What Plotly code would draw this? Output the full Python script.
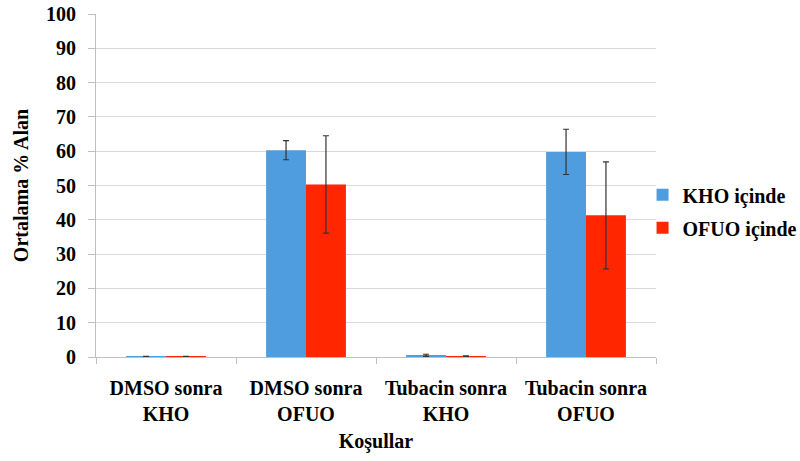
import plotly.graph_objects as go

categories = ["DMSO sonra<br>KHO", "DMSO sonra<br>OFUO", "Tubacin sonra<br>KHO", "Tubacin sonra<br>OFUO"]
kho_values = [0.1, 60.3, 0.5, 59.8]
kho_errors = [0.1, 2.8, 0.3, 6.6]
ofuo_values = [0.1, 50.3, 0.2, 41.3]
ofuo_errors = [0.1, 14.2, 0.1, 15.6]
series_names = ["KHO içinde", "OFUO içinde"]

font_family = "Liberation Serif, Times New Roman, serif"
fs = 20
err_style = dict(type="data", thickness=1.2, width=3, color="#333333")

fig = go.Figure()
fig.add_trace(go.Bar(
    x=categories, y=kho_values, name="<b>" + series_names[0] + "</b>",
    legendgroup="a",
    marker=dict(color="#4F9DDE", line=dict(width=0)),
    error_y=dict(array=kho_errors, **err_style),
))
fig.add_trace(go.Bar(
    x=categories, y=ofuo_values, name="<b>" + series_names[1] + "</b>",
    legendgroup="b",
    marker=dict(color="#FF2600", line=dict(width=0)),
    error_y=dict(array=ofuo_errors, **err_style),
))

fig.update_layout(
    width=800, height=461,
    margin=dict(l=96, r=144, t=14, b=104, autoexpand=False),
    paper_bgcolor="white", plot_bgcolor="white",
    barmode="group", bargap=0.43, bargroupgap=0,
    font=dict(family=font_family, size=fs, color="black"),
    legend=dict(
        x=0.976, y=0.425, xanchor="left", yanchor="middle",
        bgcolor="rgba(0,0,0,0)",
        font=dict(family=font_family, size=fs, color="black"),
        itemwidth=30, traceorder="grouped", tracegroupgap=4,
    ),
    xaxis=dict(
        showline=True, linecolor="#BFBFBF", linewidth=1,
        ticks="outside", tickson="boundaries", ticklen=6, tickcolor="#BFBFBF",
        tickfont=dict(family=font_family, size=fs, color="black"),
        tickprefix="<b>", ticksuffix="</b>",
        ticklabelstandoff=13,
        title=dict(text="<b>Koşullar</b>", font=dict(family=font_family, size=fs), standoff=9),
    ),
    yaxis=dict(
        range=[0, 100], dtick=10,
        showline=True, linecolor="#BFBFBF", linewidth=1,
        ticks="outside", ticklen=7, tickcolor="#BFBFBF",
        showgrid=True, gridcolor="#D9D9D9", gridwidth=1,
        tickfont=dict(family=font_family, size=fs, color="black"),
        tickprefix="<b>", ticksuffix="</b>",
        ticklabelstandoff=8,
        title=dict(text="<b>Ortalama % Alan</b>", font=dict(family=font_family, size=fs), standoff=12),
        zeroline=False,
    ),
)

fig.write_html("out.html")
